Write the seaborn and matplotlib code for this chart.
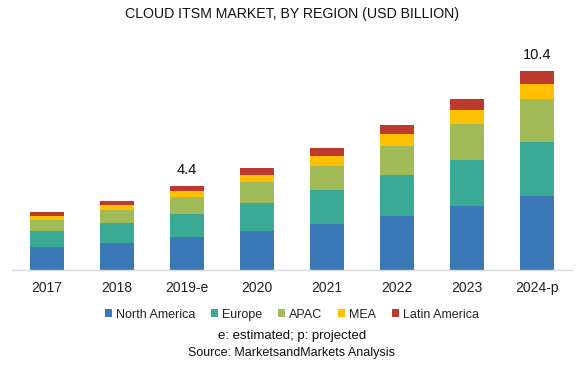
import numpy as np
import pandas as pd
import matplotlib
matplotlib.use('Agg')
import matplotlib.pyplot as plt
from matplotlib.patches import Patch
import seaborn as sns

# values (USD billion)
years = ['2017', '2018', '2019-e', '2020', '2021', '2022', '2023', '2024-p']
north_america = [1.22, 1.43, 1.74, 2.05, 2.42, 2.84, 3.36, 3.88]
europe = [0.84, 1.04, 1.20, 1.46, 1.76, 2.12, 2.40, 2.82]
apac = [0.57, 0.68, 0.87, 1.10, 1.27, 1.51, 1.88, 2.25]
mea = [0.21, 0.24, 0.31, 0.37, 0.51, 0.61, 0.71, 0.78]
latin_america = [0.21, 0.24, 0.28, 0.35, 0.42, 0.49, 0.57, 0.67]
regions = ['North America', 'Europe', 'APAC', 'MEA', 'Latin America']
labelled = {'2019-e': '4.4', '2024-p': '10.4'}

colors = ['#3b78b7', '#3aaa94', '#a0bb57', '#ffc000', '#bd3b2e']

df = pd.DataFrame({'year': years, 'North America': north_america, 'Europe': europe,
                   'APAC': apac, 'MEA': mea, 'Latin America': latin_america})
cum = df[regions].cumsum(axis=1)

sns.set_style('white')
plt.rcParams['font.family'] = ['Liberation Sans', 'DejaVu Sans']

fig = plt.figure(figsize=(5.84, 3.71), dpi=100)
ax = fig.add_axes([0.0205, 0.272, 0.959, 0.62])

# stacked bars: draw the tallest cumulative series first
for reg, col in reversed(list(zip(regions, colors))):
    sns.barplot(x=df['year'], y=cum[reg], color=col, width=0.49, saturation=1,
                linewidth=0, ax=ax, order=years)

for i, y in enumerate(years):
    if y in labelled:
        ax.text(i, cum['Latin America'][i] + 0.45, labelled[y], ha='center', va='bottom',
                fontsize=10.5, color='#111111')

ax.set_xlim(-0.5, 7.5)
ax.set_ylim(0, 12)
ax.set_xlabel('')
ax.set_ylabel('')
ax.set_yticks([])
for s in ['top', 'right', 'left']:
    ax.spines[s].set_visible(False)
ax.spines['bottom'].set_color('#d9d9d9')
ax.spines['bottom'].set_linewidth(1)
ax.tick_params(axis='x', length=0, pad=8, labelsize=10, labelcolor='#222222')

fig.text(0.5, 0.962, 'CLOUD ITSM MARKET, BY REGION (USD BILLION)', ha='center', va='center',
         fontsize=10.2, color='#111111')

handles = [Patch(facecolor=c, edgecolor='none') for c in colors]
fig.legend(handles, regions, loc='center', bbox_to_anchor=(0.5, 0.152), ncol=5, frameon=False,
           fontsize=9, handlelength=0.55, handleheight=0.55, handletextpad=0.3,
           columnspacing=1.3, labelcolor='#222222')

fig.text(0.5, 0.094, 'e: estimated; p: projected', ha='center', va='center', fontsize=9.5,
         color='#111111')
fig.text(0.5, 0.049, 'Source: MarketsandMarkets Analysis', ha='center', va='center',
         fontsize=9, color='#111111')

fig.savefig('out.png', dpi=100)
